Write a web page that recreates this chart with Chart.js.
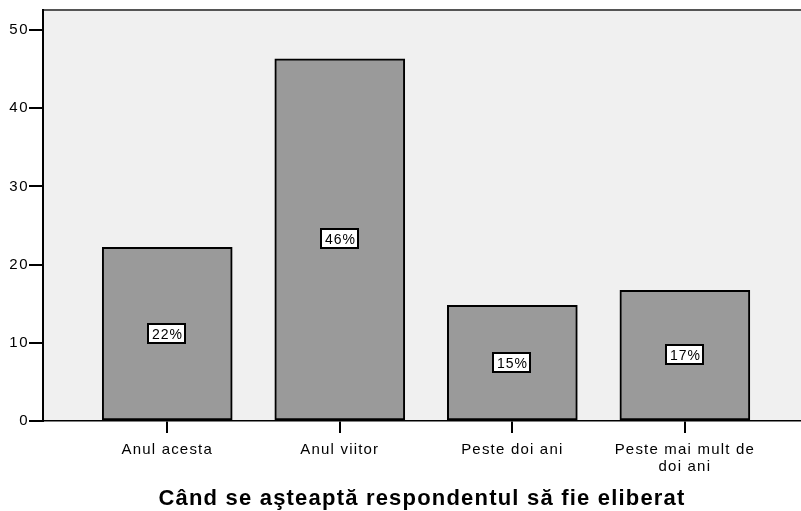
<!DOCTYPE html>
<html>
<head>
<meta charset="utf-8">
<script src="https://cdn.jsdelivr.net/npm/chart.js@4/dist/chart.umd.min.js"></script>
<style>
html,body{margin:0;padding:0;background:#fff;overflow:hidden;}
#wrap{width:801px;height:511px;position:relative;}
</style>
</head>
<body>
<div id="wrap"><canvas id="c" width="801" height="511"></canvas></div>
<script>
const categories = [["Anul acesta"], ["Anul viitor"], ["Peste doi ani"], ["Peste mai mult de", "doi ani"]];
const values = [22.2, 46.3, 14.8, 16.7];
const percentLabels = ["22%", "46%", "15%", "17%"];
const yTicks = [0, 10, 20, 30, 40, 50];
const xTitle = "Când se aşteaptă respondentul să fie eliberat";

const FONT = "'Liberation Sans', Arial, sans-serif";

function wrapSpacing(chart, id, spacing) {
  const s = chart.scales[id];
  if (s && !s._lsWrapped) {
    const orig = s.draw.bind(s);
    s.draw = function (area) {
      const ctx = chart.ctx;
      ctx.save();
      ctx.letterSpacing = spacing;
      orig(area);
      ctx.restore();
    };
    s._lsWrapped = true;
  }
}

const bgPlugin = {
  id: 'bg',
  beforeLayout(chart) {
    wrapSpacing(chart, 'x', '1.2px');
    wrapSpacing(chart, 'y', '1.5px');
  },
  beforeDraw(chart) {
    const {ctx, chartArea: a} = chart;
    ctx.save();
    ctx.fillStyle = '#f0f0f0';
    ctx.fillRect(a.left, a.top, a.right - a.left, a.bottom - a.top);
    ctx.strokeStyle = '#555';
    ctx.lineWidth = 2;
    ctx.beginPath();
    ctx.moveTo(a.left, a.top);
    ctx.lineTo(a.right, a.top);
    ctx.stroke();
    ctx.restore();
  }
};

const labelPlugin = {
  id: 'pctLabels',
  afterDatasetsDraw(chart) {
    const {ctx} = chart;
    const meta = chart.getDatasetMeta(0);
    ctx.save();
    ctx.font = "14px " + FONT;
    ctx.letterSpacing = '1px';
    ctx.textAlign = 'center';
    ctx.textBaseline = 'middle';
    meta.data.forEach((bar, i) => {
      const cx = Math.round(bar.x);
      const cy = Math.round((bar.y + bar.base) / 2);
      const t = percentLabels[i];
      const w = Math.round(ctx.measureText(t).width + 6);
      const h = 19;
      const x0 = cx - Math.round(w / 2), y0 = cy - Math.round(h / 2);
      ctx.fillStyle = '#fff';
      ctx.fillRect(x0, y0, w, h);
      ctx.strokeStyle = '#000';
      ctx.lineWidth = 2;
      ctx.strokeRect(x0, y0, w, h);
      ctx.fillStyle = '#000';
      ctx.fillText(t, cx + 0.5, cy + 1);
    });
    ctx.restore();
  }
};

new Chart(document.getElementById('c'), {
  type: 'bar',
  data: {
    datasets: [{
      data: values.map((v, i) => ({x: i + 1, y: v})),
      backgroundColor: '#9a9a9a',
      borderColor: '#000',
      borderWidth: 2,
      borderSkipped: false,
      barThickness: 130
    }]
  },
  options: {
    responsive: false,
    animation: false,
    events: [],
    layout: {padding: {top: 10, right: 0, left: 0, bottom: 0}},
    plugins: {legend: {display: false}, tooltip: {enabled: false}},
    scales: {
      x: {
        type: 'linear',
        offset: false,
        min: 0.28,
        max: 4.673,
        afterBuildTicks(scale) { scale.ticks = categories.map((c, i) => ({value: i + 1})); },
        afterFit(scale) { scale.height = 90; },
        ticks: {
          autoSkip: false,
          maxRotation: 0,
          padding: 8,
          color: '#000',
          font: {family: FONT, size: 15, lineHeight: 1.15},
          callback(v) { return categories[Math.round(v) - 1]; }
        },
        grid: {offset: false, drawOnChartArea: false, drawTicks: true, tickLength: 12, color: '#000', lineWidth: 2},
        border: {display: true, color: '#000', width: 1.5},
        title: {
          display: true,
          text: xTitle,
          color: '#000',
          font: {family: FONT, size: 22, weight: 'bold', lineHeight: 1.1},
          padding: {top: 10, bottom: 0}
        }
      },
      y: {
        min: 0,
        max: 52.55,
        afterBuildTicks(scale) { scale.ticks = yTicks.map(v => ({value: v})); },
        afterFit(scale) { scale.width = 43; },
        ticks: {
          padding: 0,
          color: '#000',
          font: {family: FONT, size: 15}
        },
        grid: {drawOnChartArea: false, drawTicks: true, tickLength: 14, color: '#000', lineWidth: 2},
        border: {display: true, color: '#000', width: 2}
      }
    }
  },
  plugins: [bgPlugin, labelPlugin]
});
</script>
</body>
</html>
